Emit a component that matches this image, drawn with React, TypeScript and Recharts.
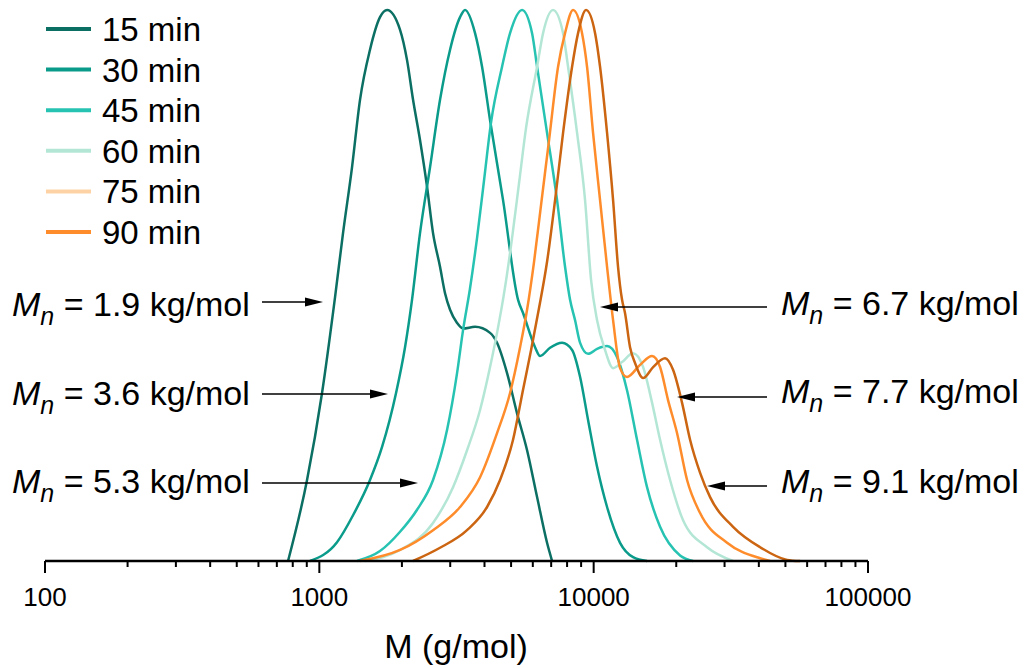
import { LineChart, Line, XAxis, YAxis, Legend } from "recharts";

// [M (g/mol), normalised signal]
const s15: [number, number][] = [
  [769, 0], [902, 0.147], [1023, 0.305], [1141, 0.479], [1220, 0.595], [1316, 0.715],
  [1407, 0.837], [1530, 0.928], [1664, 0.987], [1766, 1], [1969, 0.964], [2088, 0.909],
  [2196, 0.837], [2328, 0.764], [2470, 0.679], [2597, 0.595], [2754, 0.534], [2872, 0.486],
  [2996, 0.456], [3177, 0.432], [3341, 0.422], [3695, 0.425], [4191, 0.414], [4444, 0.396],
  [4834, 0.341], [5257, 0.268], [5718, 0.201], [6219, 0.116], [6762, 0.033], [7053, 0],
];
const s30: [number, number][] = [
  [925, 0], [1160, 0.034], [1327, 0.083], [1530, 0.147], [1693, 0.207], [1904, 0.305],
  [2053, 0.388], [2177, 0.474], [2328, 0.595], [2533, 0.715], [2754, 0.837], [2996, 0.928],
  [3258, 0.987], [3398, 1], [3695, 0.958], [3919, 0.897], [4191, 0.8], [4674, 0.655],
  [5302, 0.474], [5528, 0.45], [6114, 0.388], [6378, 0.372], [6935, 0.387], [7670, 0.396],
  [8343, 0.383], [8924, 0.334], [9541, 0.256], [10290, 0.171], [11190, 0.098], [12480, 0.033],
  [13920, 0.007], [15650, 0],
];
const s45: [number, number][] = [
  [1372, 0], [1664, 0.018], [1969, 0.053], [2271, 0.093], [2597, 0.147], [2922, 0.238],
  [3177, 0.341], [3341, 0.419], [3543, 0.495], [3757, 0.586], [3985, 0.691], [4226, 0.796],
  [4635, 0.897], [4957, 0.958], [5483, 1], [5963, 0.958], [6219, 0.897], [6762, 0.777],
  [7355, 0.655], [7865, 0.534], [8203, 0.474], [8555, 0.437], [8924, 0.396], [9541, 0.376],
  [10290, 0.385], [11190, 0.39], [12170, 0.37], [13230, 0.31], [14390, 0.22], [15650, 0.134],
  [17460, 0.062], [20650, 0.01], [23030, 0],
];
const s60: [number, number][] = [
  [1468, 0], [1969, 0.02], [2597, 0.069], [3072, 0.134], [3455, 0.201], [3854, 0.274],
  [4191, 0.352], [4444, 0.414], [4753, 0.497], [5041, 0.586], [5346, 0.686], [5669, 0.786],
  [6219, 0.897], [6540, 0.958], [7112, 1], [7735, 0.958], [8066, 0.897], [8700, 0.777],
  [9303, 0.655], [9784, 0.51], [10290, 0.437], [11000, 0.383], [11770, 0.35], [12690, 0.361],
  [13920, 0.377], [15140, 0.352], [16330, 0.287], [17460, 0.22], [18990, 0.147], [21180, 0.074],
  [25910, 0.025], [32220, 0],
];
const s75: [number, number][] = [
  [1407, 0], [1969, 0.02], [2597, 0.056], [3258, 0.098], [3854, 0.152], [4444, 0.232],
  [4957, 0.305], [5392, 0.388], [5718, 0.456], [6063, 0.543], [6429, 0.646], [6877, 0.764],
  [7417, 0.897], [7865, 0.958], [8410, 1], [9071, 0.958], [9460, 0.897], [9949, 0.777],
  [10551, 0.655], [11190, 0.534], [11770, 0.437], [12480, 0.35], [13230, 0.334], [14760, 0.356],
  [16330, 0.372], [17460, 0.352], [18670, 0.292], [20140, 0.232], [21900, 0.147], [24430, 0.087],
  [30640, 0.033], [40430, 0.005], [43970, 0],
];
const s90: [number, number][] = [
  [2196, 0], [2754, 0.024], [3455, 0.056], [4087, 0.098], [4558, 0.147], [5083, 0.22],
  [5528, 0.311], [5914, 0.383], [6322, 0.459], [6762, 0.543], [7233, 0.655], [7735, 0.777],
  [8343, 0.897], [8773, 0.958], [9382, 1], [10120, 0.958], [10551, 0.897], [11190, 0.777],
  [11770, 0.655], [12270, 0.534], [12690, 0.474], [13010, 0.45], [13570, 0.388], [14160, 0.359],
  [15140, 0.332], [16470, 0.352], [18210, 0.368], [19470, 0.347], [21000, 0.287], [22460, 0.22],
  [24430, 0.16], [26570, 0.116], [32220, 0.062], [40430, 0.025], [50700, 0.002], [56550, 0],
];

const seriesNames = ["15 min", "30 min", "45 min", "60 min", "75 min", "90 min"];
const seriesData = [s15, s30, s45, s60, s75, s90];
const lineColors = ["#0b6f64", "#0a9b8b", "#27c3b2", "#b4e6d6", "#ff8c2b", "#cc6511"];
const legendColors = ["#0b6f64", "#0a9b8b", "#27c3b2", "#b4e6d6", "#fdd3a6", "#ff8c2b"];

const majorTicks = [100, 1000, 10000, 100000];
const allTicks = [
  100, 200, 300, 400, 500, 600, 700, 800, 900,
  1000, 2000, 3000, 4000, 5000, 6000, 7000, 8000, 9000,
  10000, 20000, 30000, 40000, 50000, 60000, 70000, 80000, 90000,
  100000,
];

const leftLabels = ["1.9", "3.6", "5.3"];
const rightLabels = ["6.7", "7.7", "9.1"];

const FONT = "'Liberation Sans', Arial, Helvetica, sans-serif";

const AxisTick = (props: any) => {
  const { x, y, payload } = props;
  const major = majorTicks.includes(payload.value);
  return (
    <g>
      <line x1={x} x2={x} y1={y} y2={y + (major ? 12 : 6)} stroke="#000" strokeWidth={2} />
      {major && (
        <text x={x} y={y + 45} textAnchor="middle" fontSize={26} fontFamily={FONT} fill="#000">
          {payload.value}
        </text>
      )}
    </g>
  );
};

const renderLegend = () => (
  <svg width={240} height={260} style={{ overflow: "visible" }}>
    {seriesNames.map((name, i) => {
      const cy = 29 + i * 40.6;
      return (
        <g key={name}>
          <line x1={46} x2={91} y1={cy} y2={cy} stroke={legendColors[i]} strokeWidth={4} />
          <text x={102} y={cy + 12} fontSize={33} fontFamily={FONT} fill="#000">
            {name}
          </text>
        </g>
      );
    })}
  </svg>
);

const MnLabel = ({ x, y, value }: { x: number; y: number; value: string }) => (
  <text x={x} y={y} fontSize={34} fontFamily={FONT} fill="#000">
    <tspan fontStyle="italic">M</tspan>
    <tspan fontStyle="italic" fontSize={25} dy={9}>n</tspan>
    <tspan dy={-9}>{` = ${value} kg/mol`}</tspan>
  </text>
);

const Arrow = ({ x1, x2, y }: { x1: number; x2: number; y: number }) => {
  const dir = x2 > x1 ? 1 : -1;
  const base = x2 - dir * 18;
  return (
    <g>
      <line x1={x1} x2={base} y1={y} y2={y} stroke="#000" strokeWidth={1.3} />
      <polygon points={`${x2},${y} ${base},${y - 4.5} ${base},${y + 4.5}`} fill="#000" />
    </g>
  );
};

const Annotations = () => {
  const leftArrowY = [302, 394, 483];
  const leftTips = [323, 388, 418];
  const leftBase = [316, 405, 493];
  const rightArrowY = [307, 397, 486];
  const rightTips = [600, 677, 707];
  const rightBase = [315, 403, 493];
  return (
    <svg
      width={1028}
      height={668}
      style={{ position: "absolute", left: 0, top: 0, pointerEvents: "none" }}
    >
      {leftLabels.map((v, i) => (
        <g key={v}>
          <MnLabel x={12} y={leftBase[i]} value={v} />
          <Arrow x1={262} x2={leftTips[i]} y={leftArrowY[i]} />
        </g>
      ))}
      {rightLabels.map((v, i) => (
        <g key={v}>
          <MnLabel x={781} y={rightBase[i]} value={v} />
          <Arrow x1={767} x2={rightTips[i]} y={rightArrowY[i]} />
        </g>
      ))}
      <text x={456} y={658} textAnchor="middle" fontSize={34} fontFamily={FONT} fill="#000">
        M (g/mol)
      </text>
    </svg>
  );
};

export default function App() {
  return (
    <div style={{ position: "absolute", left: 0, top: 0, width: 1028, height: 668, background: "#fff" }}>
      <LineChart width={1028} height={668} margin={{ top: 10, right: 160, bottom: 47, left: 45 }}>
        <XAxis
          dataKey="m"
          type="number"
          scale="log"
          domain={[100, 100000]}
          ticks={allTicks}
          interval={0}
          allowDataOverflow
          height={60}
          tickLine={false}
          tickSize={0}
          tickMargin={0}
          tick={<AxisTick />}
          axisLine={{ stroke: "#000", strokeWidth: 2.5 }}
        />
        <YAxis hide type="number" domain={[0, 1]} />
        <Legend
          content={renderLegend}
          wrapperStyle={{ left: 0, top: 0, width: 0, height: 0, overflow: "visible" }}
        />
        {seriesNames.map((name, i) => (
          <Line
            key={name}
            name={name}
            data={seriesData[i].map(([m, v]) => ({ m, v }))}
            dataKey="v"
            type="monotone"
            stroke={lineColors[i]}
            strokeWidth={2.5}
            dot={false}
            activeDot={false}
            isAnimationActive={false}
          />
        ))}
      </LineChart>
      <Annotations />
    </div>
  );
}
